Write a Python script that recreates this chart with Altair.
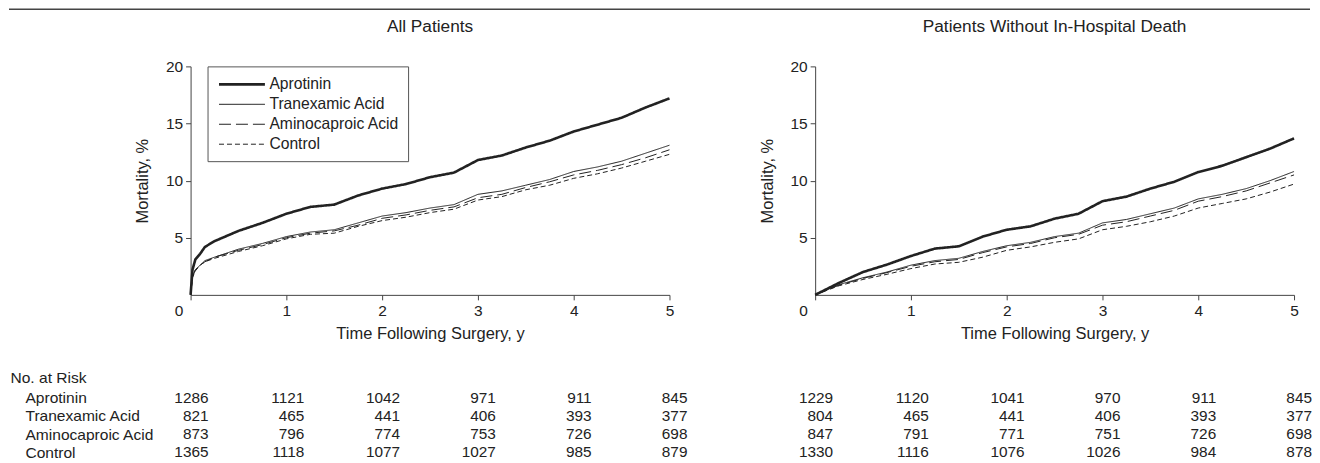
import altair as alt
import pandas as pd

FONT = "Liberation Sans"
INK = "#222222"
AXC = "#444444"

series = ["Aprotinin", "Tranexamic Acid", "Aminocaproic Acid", "Control"]

# ---- All Patients: cumulative mortality (%) ----
t_all = [0, 0.02, 0.05, 0.1, 0.15, 0.25, 0.5, 0.75, 1.0, 1.25, 1.5, 1.75, 2.0,
         2.25, 2.5, 2.75, 3.0, 3.25, 3.5, 3.75, 4.0, 4.25, 4.5, 4.75, 5.0]
all_aprotinin = [0, 2.2, 3.1, 3.6, 4.2, 4.7, 5.6, 6.3, 7.1, 7.7, 7.9, 8.7, 9.3,
                 9.7, 10.3, 10.7, 11.8, 12.2, 12.9, 13.5, 14.3, 14.9, 15.5, 16.4, 17.2]
all_tranexamic = [0, 1.6, 2.2, 2.6, 3.0, 3.3, 4.0, 4.5, 5.1, 5.5, 5.7, 6.3, 6.9,
                  7.2, 7.6, 7.9, 8.8, 9.1, 9.6, 10.1, 10.8, 11.2, 11.7, 12.4, 13.1]
all_aminocaproic = [0, 1.6, 2.2, 2.6, 2.9, 3.3, 3.9, 4.4, 5.0, 5.4, 5.6, 6.1, 6.7,
                    7.0, 7.4, 7.7, 8.5, 8.8, 9.4, 9.9, 10.5, 10.9, 11.4, 12.0, 12.7]
all_control = [0, 1.5, 2.1, 2.6, 2.9, 3.2, 3.8, 4.3, 4.9, 5.3, 5.4, 6.0, 6.5,
               6.8, 7.2, 7.5, 8.3, 8.6, 9.2, 9.6, 10.2, 10.6, 11.1, 11.7, 12.3]

# ---- Patients Without In-Hospital Death ----
t_surv = [0, 0.25, 0.5, 0.75, 1.0, 1.25, 1.5, 1.75, 2.0, 2.25, 2.5, 2.75, 3.0,
          3.25, 3.5, 3.75, 4.0, 4.25, 4.5, 4.75, 5.0]
surv_aprotinin = [0, 1.05, 2.0, 2.65, 3.4, 4.05, 4.25, 5.1, 5.7, 6.0, 6.67, 7.1, 8.2,
                  8.6, 9.3, 9.9, 10.75, 11.3, 12.05, 12.8, 13.7]
surv_tranexamic = [0, 0.9, 1.5, 2.0, 2.6, 3.0, 3.2, 3.8, 4.3, 4.6, 5.1, 5.4, 6.3,
                   6.6, 7.1, 7.6, 8.4, 8.8, 9.3, 10.0, 10.8]
surv_aminocaproic = [0, 0.85, 1.45, 1.95, 2.5, 2.9, 3.1, 3.7, 4.2, 4.5, 5.0, 5.3, 6.1,
                     6.4, 6.9, 7.4, 8.2, 8.6, 9.1, 9.8, 10.5]
surv_control = [0, 0.8, 1.35, 1.8, 2.3, 2.7, 2.85, 3.3, 3.9, 4.2, 4.6, 4.9, 5.7,
                6.0, 6.4, 6.9, 7.6, 8.0, 8.4, 9.0, 9.7]

# ---- No. at risk ----
risk_times = [0, 1, 2, 3, 4, 5]
risk_all_aprotinin = [1286, 1121, 1042, 971, 911, 845]
risk_all_tranexamic = [821, 465, 441, 406, 393, 377]
risk_all_aminocaproic = [873, 796, 774, 753, 726, 698]
risk_all_control = [1365, 1118, 1077, 1027, 985, 879]
risk_surv_aprotinin = [1229, 1120, 1041, 970, 911, 845]
risk_surv_tranexamic = [804, 465, 441, 406, 393, 377]
risk_surv_aminocaproic = [847, 791, 771, 751, 726, 698]
risk_surv_control = [1330, 1116, 1076, 1026, 984, 878]


def curves(times, cols):
    rows = []
    for name, vals in zip(series, cols):
        for t, v in zip(times, vals):
            rows.append({"t": t, "m": v, "series": name})
    return pd.DataFrame(rows)


def risk(cols):
    rows = []
    for name, vals in zip(series, cols):
        for t, v in zip(risk_times, vals):
            rows.append({"t": t, "n": v, "series": name})
    return pd.DataFrame(rows)


df_all = curves(t_all, [all_aprotinin, all_tranexamic, all_aminocaproic, all_control])
df_surv = curves(t_surv, [surv_aprotinin, surv_tranexamic, surv_aminocaproic, surv_control])
rk_all = risk([risk_all_aprotinin, risk_all_tranexamic, risk_all_aminocaproic, risk_all_control])
rk_surv = risk([risk_surv_aprotinin, risk_surv_tranexamic, risk_surv_aminocaproic, risk_surv_control])

W = 480
H = 229
TH = 73.33


def panel(df, title, with_legend):
    leg = None
    if with_legend:
        leg = alt.Legend(orient="none", legendX=17, legendY=0, title=None,
                         symbolType="M-3.067,0H3.067", symbolSize=225, symbolStrokeColor=INK,
                         symbolOffset=16.5, labelOffset=18.5,
                         labelFont=FONT, labelFontSize=15.7, labelColor=INK,
                         strokeColor="#555555", fillColor="white", padding=9,
                         rowPadding=4.0, direction="vertical")
    xax = alt.Axis(values=[0, 1, 2, 3, 4, 5], format="d", title="Time Following Surgery, y",
                   labelFlush=False, tickSize=5, labelPadding=4, titlePadding=6,
                   labelOffset={"condition": {"test": "datum.value == 0", "value": -12}, "value": 0})
    yax = alt.Axis(values=[5, 10, 15, 20], format="d", title="Mortality, %",
                   tickSize=5, labelPadding=3, titlePadding=15)
    return alt.Chart(df).mark_line(color=INK).encode(
        x=alt.X("t:Q", scale=alt.Scale(domain=[0, 5], nice=False, zero=False), axis=xax),
        y=alt.Y("m:Q", scale=alt.Scale(domain=[0, 20], nice=False), axis=yax),
        strokeDash=alt.StrokeDash("series:N", sort=series,
                                  scale=alt.Scale(domain=series, range=[[1, 0], [1, 0], [12, 5], [5, 3]]),
                                  legend=leg),
        strokeWidth=alt.StrokeWidth("series:N", sort=series,
                                    scale=alt.Scale(type="ordinal", domain=series, range=[2.6, 1, 1, 1]),
                                    legend=leg),
        order=alt.Order("t:Q"),
    ).properties(
        width=W, height=H,
        title=alt.TitleParams(title, anchor="middle", offset=24, fontSize=17.3,
                              fontWeight="normal", font=FONT, color=INK),
    )


def table(df, with_labels):
    if with_labels:
        yax = alt.Axis(title="No. at Risk", titleAngle=0, titleAlign="left", titleBaseline="middle",
                       titleX=-181, titleY=-10.8, titleFontSize=15.6, titlePadding=0,
                       labelAlign="left", labelPadding=166, ticks=False, tickSize=0,
                       domain=False, labelFontSize=15.6, labelBaseline="middle")
    else:
        yax = None
    return alt.Chart(df).mark_text(align="right", baseline="middle", dx=18,
                                   fontSize=15.4, font=FONT, color=INK).encode(
        x=alt.X("t:Q", scale=alt.Scale(domain=[0, 5], nice=False, zero=False), axis=None),
        y=alt.Y("series:N", sort=series,
                scale=alt.Scale(type="point", domain=series, padding=0.5), axis=yax),
        text=alt.Text("n:Q", format="d"),
    )


top_rule = alt.Chart(pd.DataFrame({"k": [0]})).mark_rule(color="#444444", strokeWidth=1.5).encode(
    x=alt.value(-182), x2=alt.value(1122), y=alt.value(-380)
)

left = panel(df_all, "All Patients", True)
right = panel(df_surv, "Patients Without In-Hospital Death", False)
tl = alt.layer(table(rk_all, True), top_rule).properties(width=W, height=TH)
tr = table(rk_surv, False).properties(width=W, height=TH)

chart = alt.concat(
    left, right, tl, tr, columns=2,
    spacing={"row": 93.8, "column": 146}, bounds="flush",
).resolve_scale(
    strokeDash="independent", strokeWidth="independent"
).properties(padding=0).configure_view(stroke=None).configure_axis(
    grid=False, domainColor=AXC, tickColor=AXC, labelColor=INK, titleColor=INK,
    labelFont=FONT, titleFont=FONT, labelFontSize=15.5, titleFontSize=16.5,
    titleFontWeight="normal", domainWidth=1, tickWidth=1,
).configure_legend(labelFont=FONT)

chart.save("out.html", embed_options={"renderer": "svg", "actions": False})
